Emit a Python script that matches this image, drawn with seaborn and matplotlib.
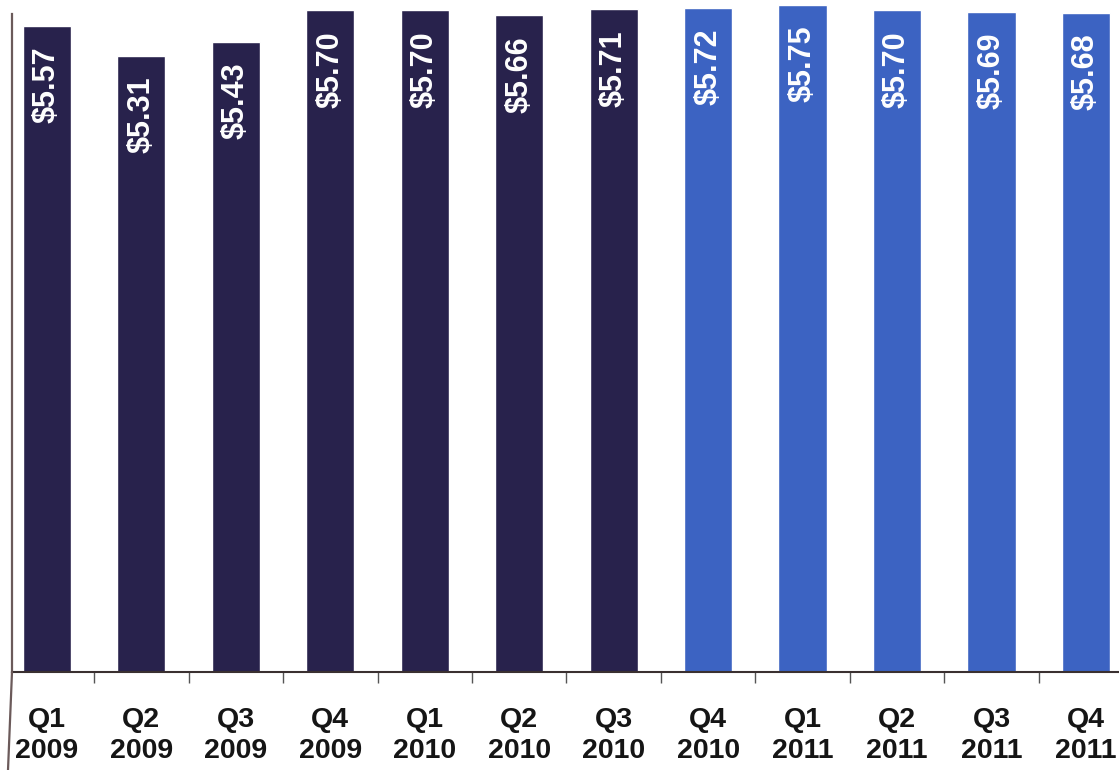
import matplotlib
matplotlib.use("Agg")
import matplotlib.pyplot as plt
import seaborn as sns
import pandas as pd
from matplotlib.lines import Line2D

quarters = ["Q1\n2009", "Q2\n2009", "Q3\n2009", "Q4\n2009",
            "Q1\n2010", "Q2\n2010", "Q3\n2010", "Q4\n2010",
            "Q1\n2011", "Q2\n2011", "Q3\n2011", "Q4\n2011"]
values = [5.57, 5.31, 5.43, 5.70, 5.70, 5.66, 5.71, 5.72, 5.75, 5.70, 5.69, 5.68]
value_labels = ["$5.57", "$5.31", "$5.43", "$5.70", "$5.70", "$5.66", "$5.71",
                "$5.72", "$5.75", "$5.70", "$5.69", "$5.68"]
period = ["actual"] * 7 + ["projected"] * 5

DARK = "#28224c"
BLUE = "#3c63c2"
colors = {q: (DARK if p == "actual" else BLUE) for q, p in zip(quarters, period)}

df = pd.DataFrame({"quarter": quarters, "value": values})

sns.set_theme(style="white")
plt.rcParams["font.family"] = ["Liberation Sans", "DejaVu Sans"]

fig = plt.figure(figsize=(11.19, 7.70), dpi=100)
ax = fig.add_axes([12 / 1119, 98 / 770, 1 - 12 / 1119, 672 / 770])

sns.barplot(data=df, x="quarter", y="value", hue="quarter", palette=colors,
            legend=False, width=0.51, saturation=1, ax=ax)

ax.set_xlim(-0.37, 11.35)
ax.set_ylim(0, 5.79)
ax.set_xlabel("")
ax.set_ylabel("")
ax.set_yticks([])

for i, (v, lab) in enumerate(zip(values, value_labels)):
    ax.annotate(lab, xy=(i, v), xytext=(0, -15), textcoords="offset points",
                rotation=90, ha="center", va="top", color="white",
                fontsize=22, fontweight="bold")

ax.set_xticks(range(len(quarters)))
ax.set_xticklabels(quarters, fontsize=20.5, linespacing=1.25, color="#151515",
                   fontweight="bold")
ax.tick_params(axis="x", which="major", length=0, pad=25)
ax.set_xticks([i + 0.5 for i in range(len(quarters) - 1)], minor=True)
ax.tick_params(axis="x", which="minor", length=8, width=1, color="#555555",
               direction="out", bottom=True)

for s in ["top", "right"]:
    ax.spines[s].set_visible(False)
ax.spines["bottom"].set_color("#3a3030")
ax.spines["bottom"].set_linewidth(1.5)
ax.spines["left"].set_color("#6b5a5a")
ax.spines["left"].set_linewidth(1.6)
ax.spines["left"].set_bounds(0, 5.67)

# left spine continues below the baseline to the bottom of the figure
fig.add_artist(Line2D([12 / 1119, 8 / 1119], [98 / 770, 0], transform=fig.transFigure,
                      color="#6b5a5a", lw=1.6))

fig.savefig("out.png", dpi=100, facecolor="white")
